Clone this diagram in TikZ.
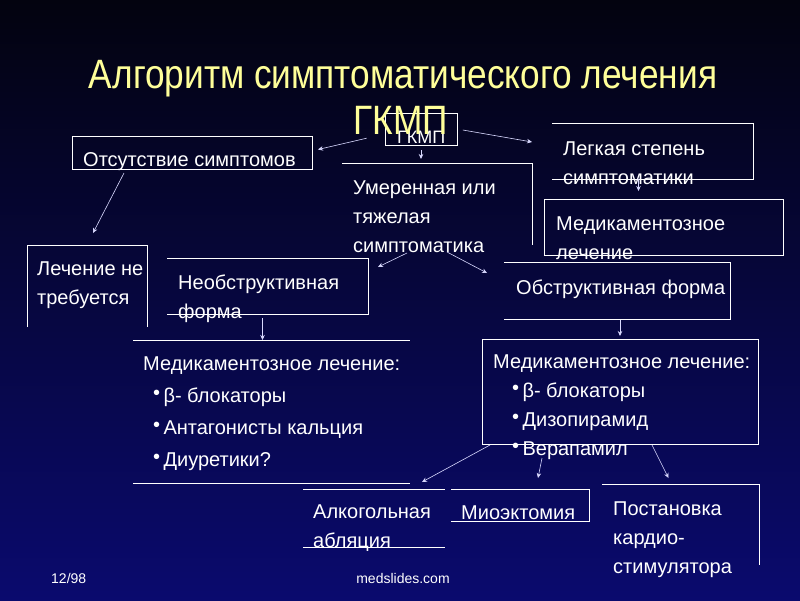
\documentclass[tikz,border=0pt]{standalone}
\usepackage{fontspec}
\setmainfont{Liberation Sans}
\newfontfamily\titlefont[FakeStretch=0.86]{Liberation Sans}
\definecolor{bgTop}{HTML}{03030F}
\definecolor{bgBot}{HTML}{0A0A6E}
\definecolor{tYellow}{HTML}{FFFF99}
\usetikzlibrary{arrows.meta}
\newcommand{\bul}{\raisebox{3pt}{•}\,}

\begin{document}
\begin{tikzpicture}[x=1pt, y=-1pt,
  frame/.style={inner sep=0pt, outer sep=0pt, anchor=north west},
  box/.style={frame, draw=white, line width=0.9pt},
  edge/.style={draw=white, line width=0.9pt},
  txt/.style={text=white, inner sep=0pt, anchor=north west, align=left,
              font=\fontsize{20}{29}\selectfont},
  ttl/.style={text=tYellow, inner sep=0pt, anchor=base,
              font=\titlefont\fontsize{41}{44}\selectfont},
  foot/.style={text=white, inner sep=0pt, font=\fontsize{14}{16}\selectfont},
  arr/.style={-{Stealth[length=5pt,width=4.5pt]}, white!85!blue, line width=0.6pt}]

  \shade[top color=bgTop, bottom color=bgBot] (0,0) rectangle (800,600);
  \useasboundingbox (0,0) rectangle (800,600);

  % frames
  \node[box, minimum width=72pt, minimum height=32pt] (gkmpBox) at (385,113) {};
  \node[box, minimum width=240pt, minimum height=33pt] (absent) at (72,136) {};
  \node[frame, minimum width=120pt, minimum height=82pt] (nocure) at (27,245) {};
  \node[frame, minimum width=201pt, minimum height=56pt] (nonobst) at (167,258) {};
  \node[frame, minimum width=190pt, minimum height=82pt] (moder) at (342,163) {};
  \node[frame, minimum width=201pt, minimum height=56pt] (mild) at (552,123) {};
  \node[box, minimum width=239pt, minimum height=56pt] (medR) at (544,199) {};
  \node[frame, minimum width=226pt, minimum height=57pt] (obst) at (504,262) {};
  \node[frame, minimum width=277pt, minimum height=143pt] (drugL) at (133,340) {};
  \node[box, minimum width=276pt, minimum height=105pt] (drugR) at (482,339) {};
  \node[frame, minimum width=142pt, minimum height=58pt] (ablation) at (303,489) {};
  \node[frame, minimum width=138pt, minimum height=32pt] (myo) at (451,489) {};
  \node[frame, minimum width=157pt, minimum height=81pt] (pacer) at (602,484) {};

  \draw[edge] (nocure.south west) -- (nocure.north west) -- (nocure.north east) -- (nocure.south east);
  \foreach \n in {nonobst, mild, obst, myo}
    \draw[edge] (\n.north west) -- (\n.north east) -- (\n.south east) -- (\n.south west);
  \foreach \n in {moder, pacer}
    \draw[edge] (\n.north west) -- (\n.north east) -- (\n.south east);
  \foreach \n in {drugL, ablation}{
    \draw[edge] (\n.north west) -- (\n.north east);
    \draw[edge] (\n.south west) -- (\n.south east);}

  % texts
  \node[txt, anchor=base west, font=\fontsize{18}{20}\selectfont] (gkmpBoxT) at (397,143) {ГКМП};
  \node[ttl] (title) at (403,88) {Алгоритм симптоматического лечения};
  \node[ttl] (gkmpT) at (401,134) {ГКМП};
  \node[txt] (absentT) at (83,152) {Отсутствие симптомов};
  \node[txt] (nocureT) at (37,262) {Лечение не\\требуется};
  \node[txt] (nonobstT) at (178,275) {Необструктивная\\форма};
  \node[txt] (moderT) at (353,181) {Умеренная или\\тяжелая\\симптоматика};
  \node[txt] (mildT) at (563,142) {Легкая степень\\симптоматики};
  \node[txt] (medRT) at (556,217) {Медикаментозное\\лечение};
  \node[txt] (obstT) at (516,280) {Обструктивная форма};
  \node[txt] (drugLT) at (143,357) {Медикаментозное лечение:\\[3pt]
    \hspace*{10pt}\bul β- блокаторы\\[3pt]
    \hspace*{10pt}\bul Антагонисты кальция\\[3pt]
    \hspace*{10pt}\bul Диуретики?};
  \node[txt] (drugRT) at (493,355) {Медикаментозное лечение:\\
    \hspace*{19pt}\bul β- блокаторы\\
    \hspace*{19pt}\bul Дизопирамид\\
    \hspace*{19pt}\bul Верапамил};
  \node[txt] (ablationT) at (313,505) {Алкогольная\\абляция};
  \node[txt] (myoT) at (461,506) {Миоэктомия};
  \node[txt] (pacerT) at (613,502) {Постановка\\кардио-\\стимулятора};
  \node[foot, anchor=base west] (page) at (51,583) {12/98};
  \node[foot, anchor=base] (site) at (403,583) {medslides.com};

  % arrows
  \draw[arr] ([xshift=13pt,yshift=-4pt]gkmpT.south west) -- ([xshift=6pt,yshift=3pt]absent.east);
  \draw[arr] ([xshift=52pt,yshift=-4pt]absent.south west) -- ([xshift=6pt,yshift=12pt]nocure.north);
  \draw[arr, shorten <=5pt, shorten >=4pt] (gkmpBox.south) -- (gkmpBox.south |- moder.north);
  \draw[arr, shorten <=6pt] (gkmpBox.east) -- ([xshift=-20pt,yshift=9pt]mild.west);
  \draw[arr] ([xshift=-30pt,yshift=-8pt]moder.south) -- ([xshift=10pt,yshift=-9pt]nonobst.north east);
  \draw[arr] ([xshift=10pt,yshift=-7pt]moder.south) -- ([xshift=-17pt,yshift=-11pt]obst.north west);
  \draw[arr, shorten >=8pt] ([xshift=-14pt]mild.south) -- ([xshift=-14pt]mild.south |- medR.north);
  \draw[arr, shorten <=4pt] ([xshift=-5pt]nonobst.south) -- ([xshift=-5pt]nonobst.south |- drugL.north);
  \draw[arr, shorten <=1pt, shorten >=3pt] ([xshift=3pt]obst.south) -- (drugR.north);
  \draw[arr] ([xshift=8pt,yshift=-1pt]drugR.south west) -- ([xshift=-23pt,yshift=7pt]ablation.north east);
  \draw[arr] ([xshift=60pt,yshift=-14pt]drugR.south west) -- ([xshift=18pt,yshift=11pt]myo.north);
  \draw[arr] ([xshift=32pt,yshift=-1pt]drugR.south) -- ([xshift=-12pt,yshift=6pt]pacer.north);
\end{tikzpicture}
\end{document}
